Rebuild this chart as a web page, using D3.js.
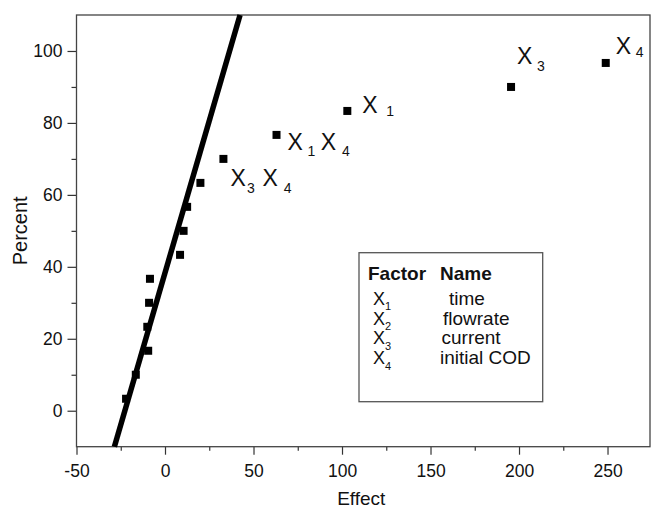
<!DOCTYPE html>
<html>
<head>
<meta charset="utf-8">
<script src="https://cdn.jsdelivr.net/npm/d3@7"></script>
<style>
  body { margin: 0; background: #fff; }
  svg text { font-family: "Liberation Sans", Arial, sans-serif; fill: #111; }
</style>
</head>
<body>
<div id="content"></div>
<script>
// normal probability plot of effects
var effects  = [-22, -16.5, -9.5, -10, -9, -8.5, 8.5, 10.5, 12.5, 20, 33, 63, 103, 195.5, 249];
var percents = [3.33, 10, 16.67, 23.33, 30, 36.67, 43.33, 50, 56.67, 63.33, 70, 76.67, 83.33, 90, 96.67];

// fitted line end points (effect, percent)
var lineEffect  = [-28.6, 42.4];
var linePercent = [-10, 110];

var xTicks = [-50, 0, 50, 100, 150, 200, 250];
var xMinor = [-25, 25, 75, 125, 175, 225];
var yTicks = [0, 20, 40, 60, 80, 100];
var yMinor = [10, 30, 50, 70, 90];

// annotations: point index + text pieces (main letter, subscript)
var labelPoint = [10, 11, 12, 13, 14];
var labelText  = [['X', '3', 'X', '4'], ['X', '1', 'X', '4'], ['X', '1'], ['X', '3'], ['X', '4']];

var factors = ['1', '2', '3', '4'];
var factorNames = ['time', 'flowrate', 'current', 'initial COD'];

var W = 652, H = 509;
var svg = d3.select('#content').append('svg')
    .attr('width', W)
    .attr('height', H);

var x = d3.scaleLinear().domain([-50, 274]).range([76.5, 650]);
var y = d3.scaleLinear().domain([-10, 110]).range([446.7, 15]);
var plain = function(d) { return String(d); };

// axes
svg.append('g').attr('transform', 'translate(0,446.7)')
    .call(d3.axisBottom(x).tickValues(xTicks).tickSize(8).tickPadding(10).tickFormat(plain));
svg.append('g').attr('transform', 'translate(0,446.7)')
    .call(d3.axisBottom(x).tickValues(xMinor).tickSize(4).tickFormat(''));
svg.append('g').attr('transform', 'translate(76.5,0)')
    .call(d3.axisLeft(y).tickValues(yTicks).tickSize(9).tickPadding(5).tickFormat(plain));
svg.append('g').attr('transform', 'translate(76.5,0)')
    .call(d3.axisLeft(y).tickValues(yMinor).tickSize(5).tickFormat(''));

svg.selectAll('.domain').remove();
svg.selectAll('.tick line').attr('stroke', '#333').attr('stroke-width', 1.2);
svg.selectAll('.tick text').style('font-size', '17.5px').attr('fill', '#111');

// frame
svg.append('rect')
    .attr('x', x(-50)).attr('y', y(110))
    .attr('width', x(274) - x(-50)).attr('height', y(-10) - y(110))
    .attr('fill', 'none').attr('stroke', '#444').attr('stroke-width', 1.3);

// axis titles
svg.append('text')
    .attr('x', (x(-50) + x(274)) / 2 - 2).attr('y', 505)
    .attr('text-anchor', 'middle').style('font-size', '19px')
    .text('Effect');
svg.append('text')
    .attr('transform', 'translate(26.5,' + (y(-10) + y(110)) / 2 + ') rotate(-90)')
    .attr('text-anchor', 'middle').style('font-size', '20px')
    .text('Percent');

// fitted line
svg.append('line')
    .attr('x1', x(lineEffect[0])).attr('y1', y(linePercent[0]))
    .attr('x2', x(lineEffect[1])).attr('y2', y(linePercent[1]))
    .attr('stroke', '#000').attr('stroke-width', 5.5);

// points
var pts = effects.map(function(e, i) { return { e: e, p: percents[i] }; });
svg.selectAll('rect.pt').data(pts).enter().append('rect')
    .attr('class', 'pt')
    .attr('x', function(d) { return x(d.e) - 4; })
    .attr('y', function(d) { return y(d.p) - 4; })
    .attr('width', 8).attr('height', 8)
    .attr('fill', '#000');

// label layout: offset from point, and dx / dy for each piece
var labelLayout = [
    { dx: 7,  dy: 27,  pieces: [[0, 0], [1.3, 6.7], [7.6, -6.7], [6, 6.7]] },
    { dx: 11, dy: 15,  pieces: [[0, 0], [4.7, 6], [5.5, -6], [5.7, 6]] },
    { dx: 15, dy: 2,   pieces: [[0, 0], [8.7, 3.5]] },
    { dx: 6,  dy: -23, pieces: [[0, 0], [4.7, 7.4]] },
    { dx: 10, dy: -9,  pieces: [[0, 0], [4.7, 3.4]] }
];

labelPoint.forEach(function(pi, k) {
    var lay = labelLayout[k];
    var t = svg.append('text')
        .attr('x', x(effects[pi]) + lay.dx)
        .attr('y', y(percents[pi]) + lay.dy);
    labelText[k].forEach(function(s, j) {
        t.append('tspan')
            .attr('dx', lay.pieces[j][0])
            .attr('dy', lay.pieces[j][1])
            .style('font-size', j % 2 === 0 ? '23px' : '14px')
            .text(s);
    });
});

// legend box
var lg = svg.append('g').attr('transform', 'translate(359,252.7)');
lg.append('rect')
    .attr('width', 183.7).attr('height', 149)
    .attr('fill', '#fff').attr('stroke', '#555').attr('stroke-width', 1.3);
lg.append('text').attr('x', 9).attr('y', 27.5)
    .style('font-size', '19px').style('font-weight', 'bold').text('Factor');
lg.append('text').attr('x', 81).attr('y', 27.5)
    .style('font-size', '19px').style('font-weight', 'bold').text('Name');

var nameX = [90, 84, 82.5, 81];
factors.forEach(function(f, i) {
    var by = 52.3 + i * 19.7;
    var t = lg.append('text').attr('x', 14).attr('y', by).style('font-size', '18px');
    t.append('tspan').text('X');
    t.append('tspan').attr('dx', 0).attr('dy', 5.5).style('font-size', '11px').text(f);
    lg.append('text').attr('x', nameX[i]).attr('y', by)
        .style('font-size', '19px').text(factorNames[i]);
});
</script>
</body>
</html>
